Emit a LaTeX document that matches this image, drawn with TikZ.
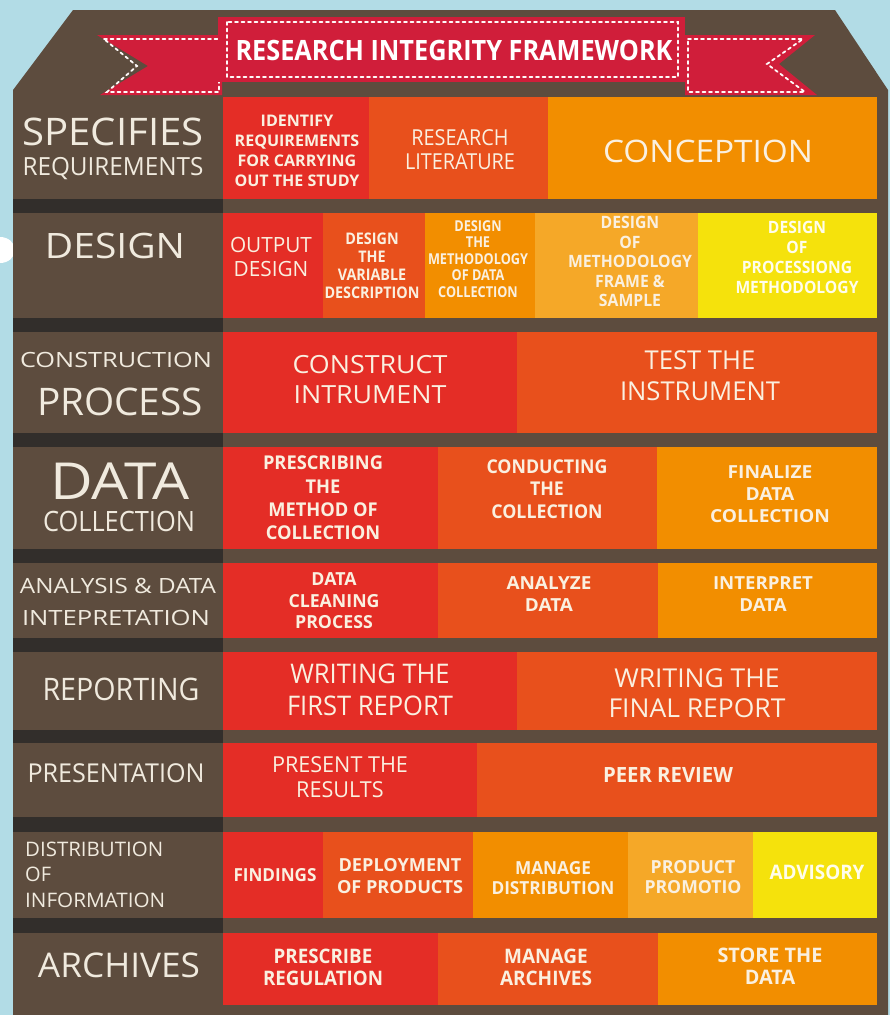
\documentclass[tikz,border=0pt]{standalone}
\usepackage{fontspec}
\usepackage{graphicx}
\setmainfont{Open Sans}
\definecolor{bgblue}{RGB}{178,220,230}
\definecolor{brownc}{RGB}{93,76,62}
\definecolor{darkc}{RGB}{50,46,43}
\definecolor{cRed}{RGB}{228,45,38}
\definecolor{cOrR}{RGB}{232,80,28}
\definecolor{cOr}{RGB}{242,142,0}
\definecolor{cLOr}{RGB}{245,168,40}
\definecolor{cYel}{RGB}{245,226,12}
\definecolor{banner}{RGB}{208,30,58}
\definecolor{labc}{RGB}{240,234,222}
\definecolor{txtc}{RGB}{250,240,224}
\definecolor{txty}{RGB}{255,253,235}
\newlength\swlen
\newcommand\sw[2]{\settowidth\swlen{#2}\scalebox{\fpeval{(#1)/\swlen}}[1]{#2}}
\newcommand\lab[3]{\sw{#2}{\fontsize{#1}{#1}\selectfont #3}}
\newcommand\bt[4]{\sw{#3}{\fontsize{#1}{#2}\selectfont\begin{tabular}{@{}c@{}}#4\end{tabular}}}
\tikzset{
  lbl/.style={text=labc, inner sep=0pt, anchor=base},
  bxt/.style={text=txtc, inner sep=0pt, font=\bfseries},
  bxr/.style={text=txtc, inner sep=0pt},
  stitch/.style={draw=white!92!pink, line width=1.8pt, dash pattern=on 3pt off 3.5pt, line cap=round},
}
\begin{document}
\begin{tikzpicture}[x=1pt,y=-1pt]
\useasboundingbox (0,0) rectangle (890,1015);
\fill[bgblue] (0,0) rectangle (890,1015);
\fill[white] (0,250) ellipse [x radius=15, y radius=13];
% body
\fill[brownc] (13,90) -- (73,10) -- (835,10) -- (888,90) -- (888,1015) -- (13,1015) -- cycle;
% banner
\fill[banner] (97,35) -- (222,35) -- (222,95) -- (100,95) -- (148,66) -- cycle;
\fill[banner] (685,35) -- (815,35) -- (779,64) -- (817,95) -- (685,95) -- cycle;
\draw[stitch] (104,39) -- (219,39) -- (219,92) -- (107,92) -- (137,66) -- cycle;
\draw[stitch] (688,39) -- (803,39) -- (767,64) -- (805,92) -- (688,92) -- cycle;
\fill[banner] (218,17) rectangle (685,82);
\draw[stitch] (227,22) rectangle (678,77);
\node[text=white, inner sep=0pt, anchor=base, font=\bfseries] (title) at (454,60) {\lab{28}{437}{RESEARCH INTEGRITY FRAMEWORK}};
% dark strips in label column
\foreach \a/\b in {199/213,318/332,433/447,549/563,638/652,730/743,817/832,918/933}
  \fill[darkc] (13,\a) rectangle (223,\b);
% row 1
\fill[cRed] (223,97) rectangle (369,199);
\fill[cOrR] (369,97) rectangle (548,199);
\fill[cOr] (548,97) rectangle (877,199);
% row 2
\fill[cRed] (223,213) rectangle (323,318);
\fill[cOrR] (323,213) rectangle (425,318);
\fill[cOr] (425,213) rectangle (535,318);
\fill[cLOr] (535,213) rectangle (698,318);
\fill[cYel] (698,213) rectangle (877,318);
% row 3
\fill[cRed] (223,332) rectangle (517,433);
\fill[cOrR] (517,332) rectangle (877,433);
% row 4
\fill[cRed] (223,447) rectangle (438,549);
\fill[cOrR] (438,447) rectangle (657,549);
\fill[cOr] (657,447) rectangle (877,549);
% row 5
\fill[cRed] (223,563) rectangle (438,638);
\fill[cOrR] (438,563) rectangle (658,638);
\fill[cOr] (658,563) rectangle (877,638);
% row 6
\fill[cRed] (223,652) rectangle (517,730);
\fill[cOrR] (517,652) rectangle (877,730);
% row 7
\fill[cRed] (223,743) rectangle (477,817);
\fill[cOrR] (477,743) rectangle (877,817);
% row 8
\fill[cRed] (223,832) rectangle (323,918);
\fill[cOrR] (323,832) rectangle (473,918);
\fill[cOr] (473,832) rectangle (628,918);
\fill[cLOr] (628,832) rectangle (753,918);
\fill[cYel] (753,832) rectangle (877,918);
% row 9
\fill[cRed] (223,933) rectangle (438,1005);
\fill[cOrR] (438,933) rectangle (658,1005);
\fill[cOr] (658,933) rectangle (877,1005);
% labels
\node[lbl] (l1a) at (113,145) {\lab{38}{181}{SPECIFIES}};
\node[lbl] (l1b) at (113,175) {\lab{25}{181}{REQUIREMENTS}};
\node[lbl] (l2) at (115,258) {\lab{35}{140}{DESIGN}};
\node[lbl] (l3a) at (116,367) {\lab{21}{192}{CONSTRUCTION}};
\node[lbl] (l3b) at (120,415) {\lab{38}{166}{PROCESS}};
\node[lbl] (l4a) at (120,499) {\lab{51}{140}{DATA}};
\node[lbl] (l4b) at (119,531) {\lab{28}{152}{COLLECTION}};
\node[lbl] (l5a) at (118,593) {\lab{21}{196}{ANALYSIS \& DATA}};
\node[lbl] (l5b) at (116,625) {\lab{21}{188}{INTEPRETATION}};
\node[lbl] (l6) at (121,700) {\lab{31}{157}{REPORTING}};
\node[lbl] (l7) at (116,782) {\lab{26}{177}{PRESENTATION}};
\node[lbl, anchor=base west] (l8a) at (25,856) {\lab{20}{138}{DISTRIBUTION}};
\node[lbl, anchor=base west] (l8b) at (25,881) {\fontsize{20}{20}\selectfont OF};
\node[lbl, anchor=base west] (l8c) at (25,907) {\lab{20}{140}{INFORMATION}};
\node[lbl] (l9) at (119,977) {\lab{34}{162}{ARCHIVES}};
% row 1 texts
\node[bxt] (t11) at (297,152) {\bt{16}{20}{125}{IDENTIFY\\REQUIREMENTS\\FOR CARRYING\\OUT THE STUDY}};
\node[bxr] (t12) at (460,153) {\bt{22}{24}{110}{RESEARCH\\LITERATURE}};
\node[bxr] (t13) at (708,156) {\bt{31}{31}{210}{CONCEPTION}};
% row 2 texts
\node[bxr] (t21) at (271,260) {\bt{21}{24}{82}{OUTPUT\\DESIGN}};
\node[bxt] (t22) at (372,268) {\bt{16}{18}{95}{DESIGN\\THE\\VARIABLE\\DESCRIPTION}};
\node[bxt] (t23) at (478,261) {\bt{15}{16.5}{100}{DESIGN\\THE\\METHODOLOGY\\OF DATA\\COLLECTION}};
\node[bxt] (t24) at (630,264) {\bt{17}{19.5}{124}{DESIGN\\OF\\METHODOLOGY\\FRAME \&\\SAMPLE}};
\node[bxt, text=txty] (t25) at (797,259) {\bt{17}{20}{123}{DESIGN\\OF\\PROCESSIONG\\METHODOLOGY}};
% row 3 texts
\node[bxr] (t31) at (370,382) {\bt{25}{30}{155}{CONSTRUCT\\INTRUMENT}};
\node[bxr] (t32) at (700,379) {\bt{26}{31}{160}{TEST THE\\INSTRUMENT}};
% row 4 texts
\node[bxt] (t41) at (323,500) {\bt{19}{23.3}{120}{PRESCRIBING\\THE\\METHOD OF\\COLLECTION}};
\node[bxt] (t42) at (547,491) {\bt{19}{22.5}{121}{CONDUCTING\\THE\\COLLECTION}};
\node[bxt] (t43) at (770,496) {\bt{18}{22}{120}{FINALIZE\\DATA\\COLLECTION}};
% row 5 texts
\node[bxt] (t51) at (334,603) {\bt{18}{21.5}{91}{DATA\\CLEANING\\PROCESS}};
\node[bxt] (t52) at (549,596) {\bt{18}{22}{85}{ANALYZE\\DATA}};
\node[bxt] (t53) at (763,596) {\bt{18}{22}{100}{INTERPRET\\DATA}};
% row 6 texts
\node[bxr] (t61) at (370,693) {\bt{27}{32}{166}{WRITING THE\\FIRST REPORT}};
\node[bxr] (t62) at (697,696) {\bt{26}{30}{177}{WRITING THE\\FINAL REPORT}};
% row 7 texts
\node[bxr] (t71) at (340,780) {\bt{22}{25}{136}{PRESENT THE\\RESULTS}};
\node[bxt] (t72) at (668,778) {\bt{21}{21}{130}{PEER REVIEW}};
% row 8 texts
\node[bxt] (t81) at (275,878) {\bt{18}{18}{83}{FINDINGS}};
\node[bxt] (t82) at (400,878) {\bt{18}{22}{126}{DEPLOYMENT\\OF PRODUCTS}};
\node[bxt] (t83) at (553,880) {\bt{18}{20}{123}{MANAGE\\DISTRIBUTION}};
\node[bxt] (t84) at (693,879) {\bt{18}{20}{97}{PRODUCT\\PROMOTIO}};
\node[bxt, text=txty] (t85) at (817,875) {\bt{20}{20}{95}{ADVISORY}};
% row 9 texts
\node[bxt] (t91) at (323,970) {\bt{20}{21.5}{120}{PRESCRIBE\\REGULATION}};
\node[bxt] (t92) at (546,970) {\bt{20}{21.5}{92}{MANAGE\\ARCHIVES}};
\node[bxt] (t93) at (770,969) {\bt{20}{22}{105}{STORE THE\\DATA}};
\end{tikzpicture}
\end{document}
